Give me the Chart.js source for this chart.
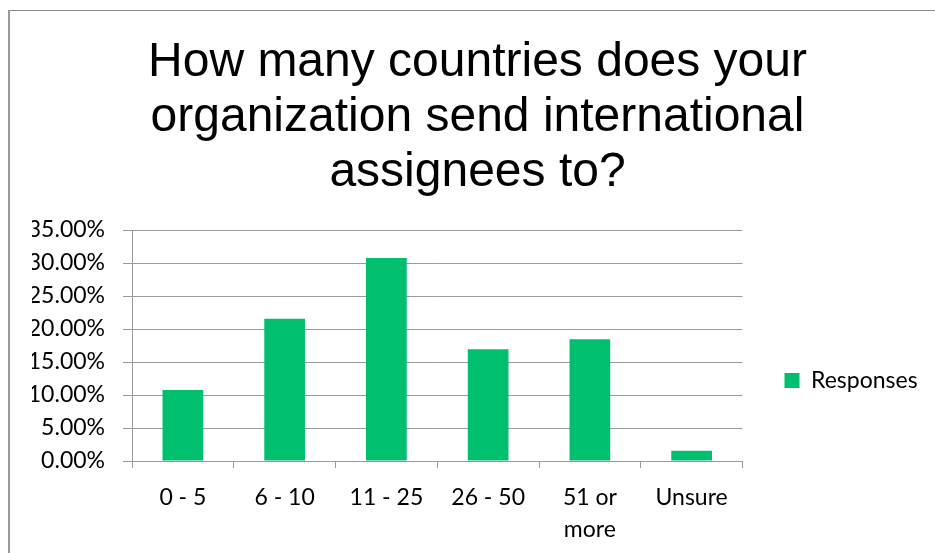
<!DOCTYPE html>
<html>
<head>
<meta charset="utf-8">
<script src="https://cdn.jsdelivr.net/npm/chart.js@4.4.1/dist/chart.umd.min.js"></script>
<style>
  html, body { margin: 0; padding: 0; background: #fff; overflow: hidden; width: 935px; height: 553px; }
  #frame { position: absolute; left: 8px; top: 10px; width: 1000px; height: 700px;
           border-left: 2px solid #999; border-top: 1px solid #888; }
  #c { position: absolute; left: 0; top: 0; }
</style>
</head>
<body>
<div id="frame"></div>
<canvas id="c" width="935" height="553"></canvas>
<script>
const titleLines = ['How many countries does your', 'organization send international', 'assignees to?'];
const categories = ['0 - 5', '6 - 10', '11 - 25', '26 - 50', ['51 or', 'more'], 'Unsure'];
const seriesName = 'Responses';
const responses = [0.1077, 0.2154, 0.3077, 0.1692, 0.1846, 0.0154];
const yTicks = [0, 0.05, 0.10, 0.15, 0.20, 0.25, 0.30, 0.35];

const GREEN = '#00BF6F';
const GRID = '#9a9a9a';
const tickFont = { family: 'Lato, "Noto Sans", sans-serif', size: 23 };

new Chart(document.getElementById('c'), {
  type: 'bar',
  data: {
    labels: categories,
    datasets: [{
      label: seriesName,
      data: responses,
      backgroundColor: GREEN,
      borderWidth: 0,
      categoryPercentage: 1.0,
      barPercentage: 0.4
    }]
  },
  options: {
    responsive: false,
    animation: false,
    layout: { padding: { left: 32, right: 12, top: 0, bottom: 8 } },
    plugins: {
      tooltip: { enabled: false },
      title: {
        display: true,
        text: titleLines,
        color: '#000',
        font: { family: '"Liberation Sans", Arial, sans-serif', size: 48, weight: 'normal', lineHeight: 1.146 },
        padding: { top: 35, bottom: 30 }
      },
      legend: {
        display: true,
        position: 'right',
        align: 'start',
        title: { display: true, text: ' ', font: { size: 10, lineHeight: 1.2 }, padding: { top: 347, bottom: 0 } },
        labels: {
          color: '#000',
          font: tickFont,
          boxWidth: 15,
          boxHeight: 15,
          padding: 10
        }
      }
    },
    scales: {
      x: {
        offset: true,
        afterFit: (s) => { s.height = 84; },
        grid: { display: true, offset: true, drawOnChartArea: false, drawTicks: true, tickLength: 7, color: GRID },
        border: { display: true, color: GRID },
        ticks: { color: '#000', font: Object.assign({}, tickFont, { lineHeight: 1.38 }), padding: 14, maxRotation: 0, autoSkip: false }
      },
      y: {
        min: 0,
        max: 0.35,
        afterBuildTicks: (s) => { s.ticks = yTicks.map(v => ({ value: v })); },
        afterFit: (s) => { s.width = 100; },
        grid: { color: GRID, tickLength: 9, drawTicks: true },
        border: { display: true, color: GRID },
        ticks: { color: '#000', font: tickFont, padding: 18,
                 callback: (v) => (v * 100).toFixed(2) + '%' }
      },
      gap: {
        type: 'linear',
        position: 'right',
        display: true,
        grid: { display: false },
        border: { display: false },
        ticks: { display: false },
        afterFit: (s) => { s.width = 32; }
      }
    }
  }
});
</script>
</body>
</html>
